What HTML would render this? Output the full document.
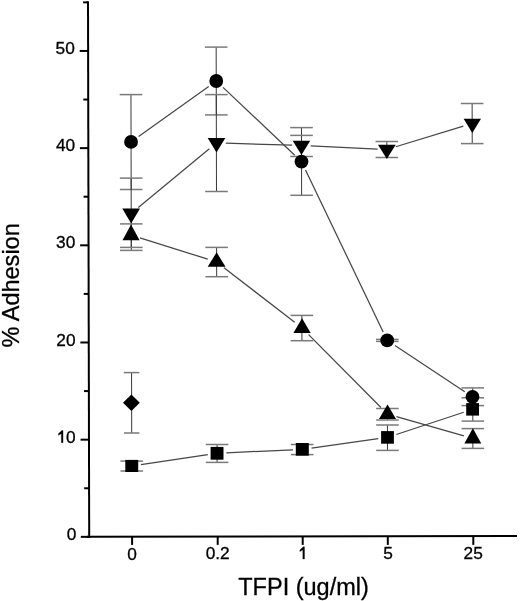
<!DOCTYPE html>
<html><head><meta charset="utf-8"><style>
html,body{margin:0;padding:0;background:#fff;}
svg{display:block;will-change:transform;}
text{font-family:"Liberation Sans",sans-serif;fill:#000;stroke:#000;stroke-width:0.3px;}
</style></head><body>
<svg width="520" height="601" viewBox="0 0 520 601">
<rect width="520" height="601" fill="#fff"/>
<line x1="88.00" y1="1.3" x2="89.20" y2="538" stroke="#000" stroke-width="2"/>
<line x1="87" y1="536.85" x2="517" y2="536.05" stroke="#000" stroke-width="2"/>
<line x1="80.80" y1="536.85" x2="89.20" y2="536.85" stroke="#000" stroke-width="2"/>
<line x1="80.58" y1="439.67" x2="88.98" y2="439.67" stroke="#000" stroke-width="2"/>
<line x1="80.36" y1="342.49" x2="88.76" y2="342.49" stroke="#000" stroke-width="2"/>
<line x1="80.15" y1="245.31" x2="88.55" y2="245.31" stroke="#000" stroke-width="2"/>
<line x1="79.93" y1="148.13" x2="88.33" y2="148.13" stroke="#000" stroke-width="2"/>
<line x1="79.71" y1="50.95" x2="88.11" y2="50.95" stroke="#000" stroke-width="2"/>
<line x1="84.19" y1="488.26" x2="89.09" y2="488.26" stroke="#000" stroke-width="2"/>
<line x1="83.97" y1="391.08" x2="88.87" y2="391.08" stroke="#000" stroke-width="2"/>
<line x1="83.75" y1="293.90" x2="88.65" y2="293.90" stroke="#000" stroke-width="2"/>
<line x1="83.54" y1="196.72" x2="88.44" y2="196.72" stroke="#000" stroke-width="2"/>
<line x1="83.32" y1="99.54" x2="88.22" y2="99.54" stroke="#000" stroke-width="2"/>
<line x1="83.10" y1="2.36" x2="88.00" y2="2.36" stroke="#000" stroke-width="2"/>
<line x1="132.1" y1="536.77" x2="132.1" y2="544.9" stroke="#000" stroke-width="2"/>
<line x1="217.7" y1="536.61" x2="217.7" y2="544.9" stroke="#000" stroke-width="2"/>
<line x1="302.7" y1="536.45" x2="302.7" y2="544.9" stroke="#000" stroke-width="2"/>
<line x1="387.8" y1="536.29" x2="387.8" y2="544.9" stroke="#000" stroke-width="2"/>
<line x1="473.3" y1="536.13" x2="473.3" y2="544.9" stroke="#000" stroke-width="2"/>
<text x="76.30" y="539.70" text-anchor="end" font-size="17.3">0</text>
<text x="75.65" y="442.70" text-anchor="end" font-size="17.3">0</text>
<polygon points="61.34,442.70 63.04,442.70 63.04,430.54 61.78,430.54 60.82,431.45 59.61,432.53 58.40,433.67 58.40,435.23 59.87,434.53 61.34,433.74" fill="#000" stroke="#000" stroke-width="0.3"/>
<text x="75.55" y="345.70" text-anchor="end" font-size="17.3">20</text>
<text x="75.25" y="248.40" text-anchor="end" font-size="17.3">30</text>
<text x="75.15" y="150.70" text-anchor="end" font-size="17.3">40</text>
<text x="74.80" y="53.70" text-anchor="end" font-size="17.3">50</text>
<text x="132.15" y="559.85" text-anchor="middle" font-size="17.3">0</text>
<text x="217.7" y="558.95" text-anchor="middle" font-size="17.3">0.2</text>
<text x="388.05" y="558.65" text-anchor="middle" font-size="17.3">5</text>
<text x="473.2" y="558.9" text-anchor="middle" font-size="17.3">25</text>
<polygon points="302.80,559.00 304.50,559.00 304.50,546.84 303.24,546.84 302.29,547.75 301.07,548.83 299.86,549.97 299.86,551.53 301.33,550.83 302.80,550.04" fill="#000" stroke="#000" stroke-width="0.3"/>
<text x="238.27" y="595.1" font-size="23.5" stroke="#000" stroke-width="0.3">TFPI (ug/ml)</text>
<text transform="translate(19.3,347.43) rotate(-90)" x="0" y="0" font-size="23.2" stroke="#000" stroke-width="0.3" textLength="124.2" lengthAdjust="spacingAndGlyphs">% Adhesion</text>
<line x1="130.96" y1="94.6" x2="131.17" y2="189.5" stroke="#383838" stroke-width="1.0"/>
<line x1="119.66" y1="94.6" x2="142.26" y2="94.6" stroke="#7a7a7a" stroke-width="1.5"/>
<line x1="119.87" y1="189.5" x2="142.47" y2="189.5" stroke="#7a7a7a" stroke-width="1.5"/>
<line x1="131.14" y1="178.1" x2="131.30" y2="250.4" stroke="#383838" stroke-width="1.0"/>
<line x1="119.84" y1="178.1" x2="142.44" y2="178.1" stroke="#7a7a7a" stroke-width="1.5"/>
<line x1="120.00" y1="250.4" x2="142.60" y2="250.4" stroke="#7a7a7a" stroke-width="1.5"/>
<line x1="131.24" y1="223.9" x2="131.29" y2="247.4" stroke="#383838" stroke-width="1.0"/>
<line x1="119.94" y1="223.9" x2="142.54" y2="223.9" stroke="#7a7a7a" stroke-width="1.5"/>
<line x1="119.99" y1="247.4" x2="142.59" y2="247.4" stroke="#7a7a7a" stroke-width="1.5"/>
<line x1="131.76" y1="461.1" x2="131.79" y2="471" stroke="#383838" stroke-width="1.0"/>
<line x1="120.46" y1="461.1" x2="143.06" y2="461.1" stroke="#7a7a7a" stroke-width="1.5"/>
<line x1="120.49" y1="471" x2="143.09" y2="471" stroke="#7a7a7a" stroke-width="1.5"/>
<line x1="216.17" y1="47.1" x2="216.32" y2="114.9" stroke="#383838" stroke-width="1.0"/>
<line x1="204.87" y1="47.1" x2="227.47" y2="47.1" stroke="#7a7a7a" stroke-width="1.5"/>
<line x1="205.02" y1="114.9" x2="227.62" y2="114.9" stroke="#7a7a7a" stroke-width="1.5"/>
<line x1="216.28" y1="94.6" x2="216.49" y2="191.5" stroke="#383838" stroke-width="1.0"/>
<line x1="204.98" y1="94.6" x2="227.58" y2="94.6" stroke="#7a7a7a" stroke-width="1.5"/>
<line x1="205.19" y1="191.5" x2="227.79" y2="191.5" stroke="#7a7a7a" stroke-width="1.5"/>
<line x1="216.61" y1="247.4" x2="216.68" y2="276.7" stroke="#383838" stroke-width="1.0"/>
<line x1="205.31" y1="247.4" x2="227.91" y2="247.4" stroke="#7a7a7a" stroke-width="1.5"/>
<line x1="205.38" y1="276.7" x2="227.98" y2="276.7" stroke="#7a7a7a" stroke-width="1.5"/>
<line x1="217.05" y1="444.5" x2="217.09" y2="462.4" stroke="#383838" stroke-width="1.0"/>
<line x1="205.75" y1="444.5" x2="228.35" y2="444.5" stroke="#7a7a7a" stroke-width="1.5"/>
<line x1="205.79" y1="462.4" x2="228.39" y2="462.4" stroke="#7a7a7a" stroke-width="1.5"/>
<line x1="301.48" y1="127.6" x2="301.63" y2="195.3" stroke="#383838" stroke-width="1.0"/>
<line x1="290.18" y1="127.6" x2="312.78" y2="127.6" stroke="#7a7a7a" stroke-width="1.5"/>
<line x1="290.33" y1="195.3" x2="312.93" y2="195.3" stroke="#7a7a7a" stroke-width="1.5"/>
<line x1="301.50" y1="135.4" x2="301.54" y2="156.5" stroke="#383838" stroke-width="1.0"/>
<line x1="290.20" y1="135.4" x2="312.80" y2="135.4" stroke="#7a7a7a" stroke-width="1.5"/>
<line x1="290.24" y1="156.5" x2="312.84" y2="156.5" stroke="#7a7a7a" stroke-width="1.5"/>
<line x1="301.89" y1="315.4" x2="301.95" y2="340.7" stroke="#383838" stroke-width="1.0"/>
<line x1="290.59" y1="315.4" x2="313.19" y2="315.4" stroke="#7a7a7a" stroke-width="1.5"/>
<line x1="290.65" y1="340.7" x2="313.25" y2="340.7" stroke="#7a7a7a" stroke-width="1.5"/>
<line x1="302.18" y1="444.5" x2="302.20" y2="454.6" stroke="#383838" stroke-width="1.0"/>
<line x1="290.88" y1="444.5" x2="313.48" y2="444.5" stroke="#7a7a7a" stroke-width="1.5"/>
<line x1="290.90" y1="454.6" x2="313.50" y2="454.6" stroke="#7a7a7a" stroke-width="1.5"/>
<line x1="387.25" y1="339.4" x2="387.25" y2="341.4" stroke="#383838" stroke-width="1.0"/>
<line x1="375.95" y1="339.4" x2="398.55" y2="339.4" stroke="#7a7a7a" stroke-width="1.5"/>
<line x1="375.95" y1="341.4" x2="398.55" y2="341.4" stroke="#7a7a7a" stroke-width="1.5"/>
<line x1="386.81" y1="141.5" x2="386.85" y2="157.5" stroke="#383838" stroke-width="1.0"/>
<line x1="375.51" y1="141.5" x2="398.11" y2="141.5" stroke="#7a7a7a" stroke-width="1.5"/>
<line x1="375.55" y1="157.5" x2="398.15" y2="157.5" stroke="#7a7a7a" stroke-width="1.5"/>
<line x1="387.40" y1="408.5" x2="387.42" y2="420" stroke="#383838" stroke-width="1.0"/>
<line x1="376.10" y1="408.5" x2="398.70" y2="408.5" stroke="#7a7a7a" stroke-width="1.5"/>
<line x1="376.12" y1="420" x2="398.72" y2="420" stroke="#7a7a7a" stroke-width="1.5"/>
<line x1="387.44" y1="425" x2="387.49" y2="450.4" stroke="#383838" stroke-width="1.0"/>
<line x1="376.13" y1="425" x2="398.74" y2="425" stroke="#7a7a7a" stroke-width="1.5"/>
<line x1="376.19" y1="450.4" x2="398.79" y2="450.4" stroke="#7a7a7a" stroke-width="1.5"/>
<line x1="472.75" y1="387.9" x2="472.79" y2="405.6" stroke="#383838" stroke-width="1.0"/>
<line x1="461.45" y1="387.9" x2="484.05" y2="387.9" stroke="#7a7a7a" stroke-width="1.5"/>
<line x1="461.49" y1="405.6" x2="484.09" y2="405.6" stroke="#7a7a7a" stroke-width="1.5"/>
<line x1="472.13" y1="103.5" x2="472.22" y2="143.6" stroke="#383838" stroke-width="1.0"/>
<line x1="460.83" y1="103.5" x2="483.43" y2="103.5" stroke="#7a7a7a" stroke-width="1.5"/>
<line x1="460.92" y1="143.6" x2="483.52" y2="143.6" stroke="#7a7a7a" stroke-width="1.5"/>
<line x1="472.84" y1="428.6" x2="472.89" y2="448.4" stroke="#383838" stroke-width="1.0"/>
<line x1="461.54" y1="428.6" x2="484.14" y2="428.6" stroke="#7a7a7a" stroke-width="1.5"/>
<line x1="461.59" y1="448.4" x2="484.19" y2="448.4" stroke="#7a7a7a" stroke-width="1.5"/>
<line x1="472.78" y1="397.8" x2="472.83" y2="421.1" stroke="#383838" stroke-width="1.0"/>
<line x1="461.48" y1="397.8" x2="484.08" y2="397.8" stroke="#7a7a7a" stroke-width="1.5"/>
<line x1="461.53" y1="421.1" x2="484.13" y2="421.1" stroke="#7a7a7a" stroke-width="1.5"/>
<line x1="131.57" y1="372.6" x2="131.70" y2="433" stroke="#383838" stroke-width="1.0"/>
<line x1="123.82" y1="372.6" x2="139.32" y2="372.6" stroke="#7a7a7a" stroke-width="1.5"/>
<line x1="123.95" y1="433" x2="139.45" y2="433" stroke="#7a7a7a" stroke-width="1.5"/>
<line x1="138.62" y1="136.49" x2="208.68" y2="86.41" stroke="#474747" stroke-width="1.25"/>
<line x1="223.01" y1="87.39" x2="294.74" y2="155.21" stroke="#474747" stroke-width="1.25"/>
<line x1="305.52" y1="169.99" x2="383.18" y2="332.01" stroke="#474747" stroke-width="1.25"/>
<line x1="394.96" y1="345.53" x2="464.74" y2="391.67" stroke="#474747" stroke-width="1.25"/>
<line x1="138.31" y1="207.60" x2="209.34" y2="148.80" stroke="#474747" stroke-width="1.25"/>
<line x1="225.80" y1="143.16" x2="292.15" y2="145.24" stroke="#474747" stroke-width="1.25"/>
<line x1="310.74" y1="145.96" x2="377.56" y2="149.01" stroke="#474747" stroke-width="1.25"/>
<line x1="395.75" y1="146.73" x2="463.40" y2="126.20" stroke="#474747" stroke-width="1.25"/>
<line x1="139.92" y1="237.80" x2="207.73" y2="259.17" stroke="#474747" stroke-width="1.25"/>
<line x1="223.96" y1="267.65" x2="294.69" y2="322.31" stroke="#474747" stroke-width="1.25"/>
<line x1="308.60" y1="334.60" x2="380.95" y2="407.47" stroke="#474747" stroke-width="1.25"/>
<line x1="396.44" y1="416.61" x2="463.91" y2="435.82" stroke="#474747" stroke-width="1.25"/>
<line x1="140.95" y1="464.59" x2="207.85" y2="454.66" stroke="#474747" stroke-width="1.25"/>
<line x1="226.34" y1="452.87" x2="293.01" y2="449.78" stroke="#474747" stroke-width="1.25"/>
<line x1="311.51" y1="448.06" x2="378.29" y2="438.69" stroke="#474747" stroke-width="1.25"/>
<line x1="396.33" y1="434.49" x2="463.77" y2="412.26" stroke="#474747" stroke-width="1.25"/>
<circle cx="131.05" cy="141.9" r="6.9" fill="#000"/>
<circle cx="216.25" cy="81.0" r="6.9" fill="#000"/>
<circle cx="301.5" cy="161.6" r="6.9" fill="#000"/>
<circle cx="387.2" cy="340.4" r="6.9" fill="#000"/>
<circle cx="472.5" cy="396.8" r="6.9" fill="#000"/>
<polygon points="122.30,208.50 140.00,208.50 131.15,223.60" fill="#000"/>
<polygon points="207.70,138.00 225.30,138.00 216.50,152.60" fill="#000"/>
<polygon points="292.70,140.80 310.20,140.80 301.45,155.00" fill="#000"/>
<polygon points="378.00,144.70 395.70,144.70 386.85,158.90" fill="#000"/>
<polygon points="463.60,118.80 481.00,118.80 472.30,132.90" fill="#000"/>
<polygon points="122.50,240.20 139.60,240.20 131.05,224.60" fill="#000"/>
<polygon points="207.70,266.80 225.50,266.80 216.60,252.30" fill="#000"/>
<polygon points="293.40,332.90 310.70,332.90 302.05,318.20" fill="#000"/>
<polygon points="379.00,418.90 396.00,418.90 387.50,404.40" fill="#000"/>
<polygon points="464.40,443.40 481.30,443.40 472.85,428.30" fill="#000"/>
<rect x="125.3" y="459.9" width="12.90" height="12.10" fill="#000"/>
<rect x="210.6" y="446.9" width="12.90" height="12.80" fill="#000"/>
<rect x="295.8" y="443" width="13.00" height="12.70" fill="#000"/>
<rect x="381.1" y="431.1" width="12.80" height="12.60" fill="#000"/>
<rect x="466.2" y="403.1" width="12.80" height="12.50" fill="#000"/>
<rect x="469.5" y="401.8" width="6" height="1.8" fill="#000"/>
<polygon points="131.4,394.6 139.8,402.8 131.4,411.0 123.0,402.8" fill="#000"/>
</svg>
</body></html>
